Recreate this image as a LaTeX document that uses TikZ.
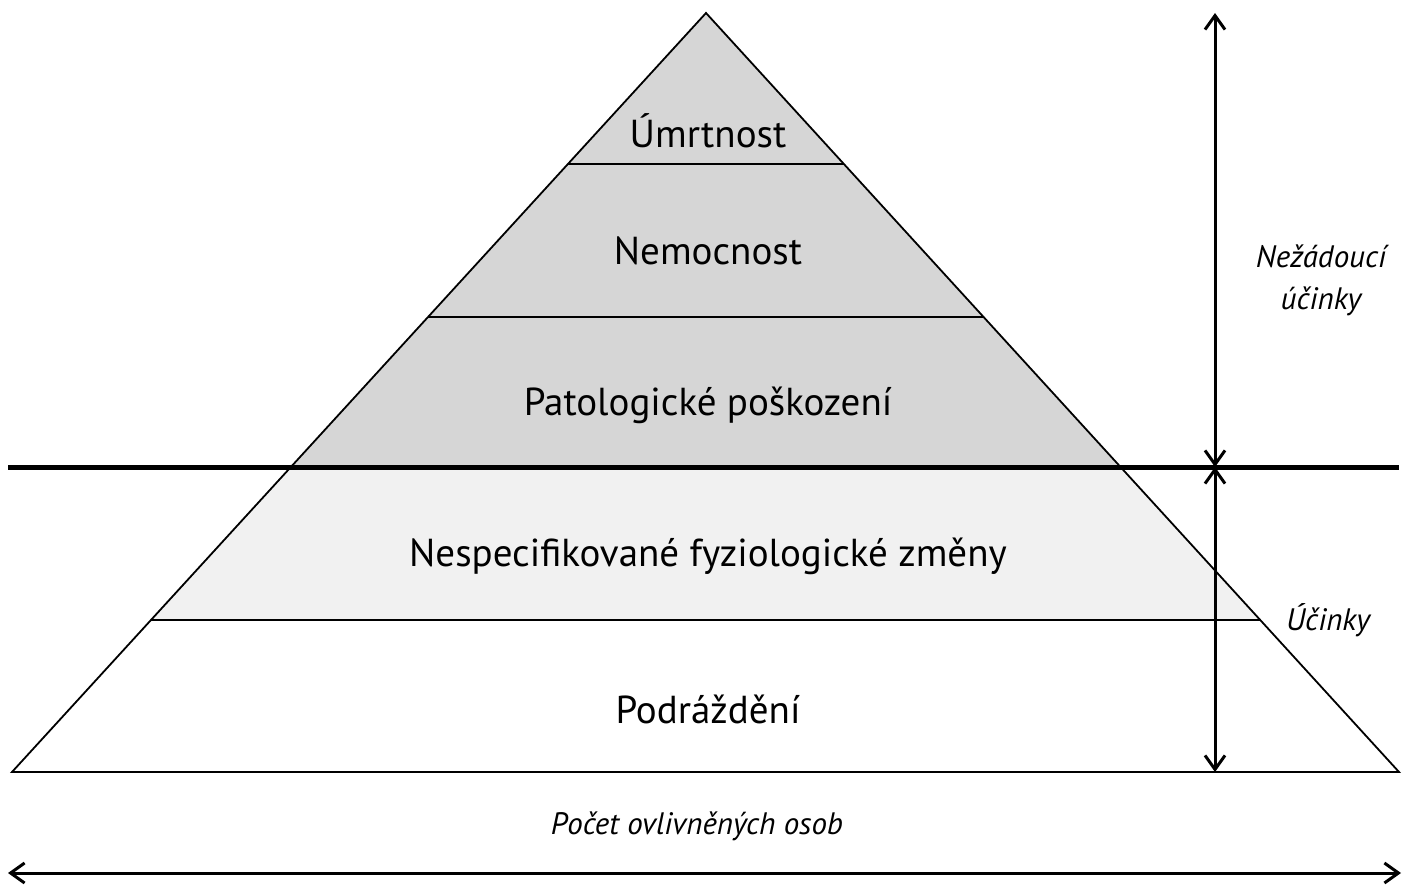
\documentclass[tikz,border=0pt]{standalone}
\usepackage{fontspec}
\setmainfont{PT Sans}
\usetikzlibrary{arrows.meta}
\definecolor{darkband}{HTML}{D6D6D6}
\definecolor{lightband}{HTML}{F1F1F1}
\tikzset{
  band/.style={draw=black, line width=1.8pt},
  lbl/.style={font=\fontsize{39}{46}\selectfont, inner sep=0pt},
  ilbl/.style={font=\itshape\fontsize{31}{42}\selectfont, inner sep=0pt, align=center},
  dim/.style={line width=3pt, {Straight Barb[length=14pt,width=20pt,line width=3pt]}-{Straight Barb[length=14pt,width=20pt,line width=3pt]}}
}
\begin{document}
\begin{tikzpicture}[x=1pt,y=-1pt]
\useasboundingbox (0,0) rectangle (1410,885);
% bands
\fill[darkband] (706,13) -- (844,164) -- (568,164) -- cycle;
\fill[darkband] (568,164) -- (844,164) -- (984,317) -- (428,317) -- cycle;
\fill[darkband] (428,317) -- (984,317) -- (1121,467) -- (291,467) -- cycle;
\fill[lightband] (291,467) -- (1121,467) -- (1261,620) -- (151,620) -- cycle;
\fill[white] (151,620) -- (1261,620) -- (1399,772) -- (12,772) -- cycle;
\draw[band, line join=miter] (706,13) -- (1399,772) -- (12,772) -- cycle;
\draw[band] (568,164) -- (844,164);
\draw[band] (428,317) -- (984,317);
\draw[band] (151,620) -- (1261,620);
% labels
\node[lbl] (umr) at (708,131) {Úmrtnost};
\node[lbl] (nem) at (708,251) {Nemocnost};
\node[lbl] (pat) at (708,405) {Patologické poškození};
\node[lbl] (nsp) at (708,556) {Nespecifikované fyziologické změny};
\node[lbl] (pod) at (708,709) {Podráždění};
% thick line
\coordinate (tl) at (8,467);
\coordinate (tr) at (1399,467);
\draw[line width=5pt] (tl) -- (tr);
% vertical arrows
\coordinate (vtop) at (1215,13);
\coordinate (vmid) at (1215,467);
\coordinate (vbot) at (1215,772);
\draw[dim] (vtop) -- (vmid);
\draw[dim] (vmid) -- (vbot);
\node[ilbl] (nez) at (1321,280) {Nežádoucí\\účinky};
\node[ilbl] (uc) at (1328,620) {Účinky};
% bottom
\node[ilbl] (poc) at (697,826) {Počet ovlivněných osob};
\coordinate (bl) at (8,873);
\coordinate (br) at (1401,873);
\draw[dim] (bl) -- (br);
\end{tikzpicture}
\end{document}
